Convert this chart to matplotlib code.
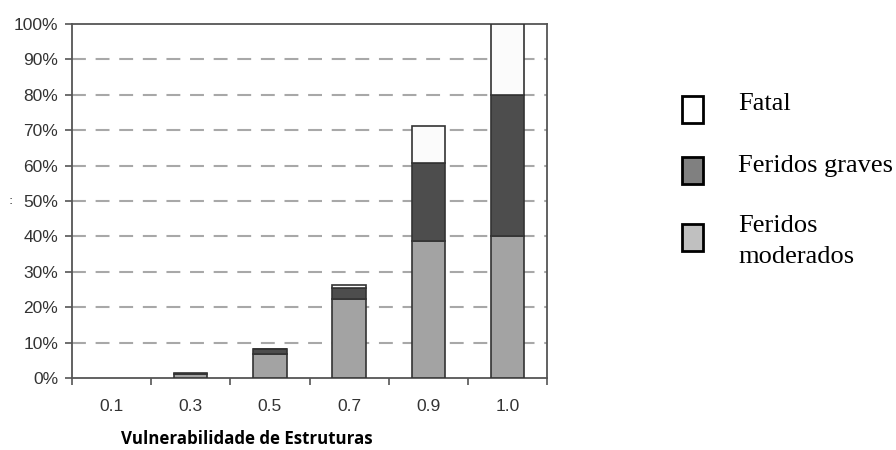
import matplotlib
matplotlib.use('Agg')
from matplotlib import pyplot as plt
from matplotlib.patches import Rectangle
import numpy as np

# dados (%)
categorias = ['0.1', '0.3', '0.5', '0.7', '0.9', '1.0']
feridos_moderados = [0.0, 1.0, 6.8, 22.2, 38.8, 40.0]
feridos_graves = [0.0, 0.5, 1.3, 3.3, 21.8, 40.0]
fatal = [0.0, 0.0, 0.1, 0.8, 10.6, 20.0]

series = ['Fatal', 'Feridos graves', 'Feridos\nmoderados']
cores_legenda = ['white', '#808080', '#c0c0c0']

plt.rcParams['lines.scale_dashes'] = False

W, H = 896, 450
fig = plt.figure(figsize=(W / 100, H / 100), dpi=100)
ax = fig.add_axes([72 / W, 72 / H, 475 / W, 354 / H])

x = np.arange(len(categorias))
width = 0.42
edge = '#333333'
mod = np.array(feridos_moderados)
grav = np.array(feridos_graves)
fat = np.array(fatal)


def lw(h):
    # sem contorno onde o segmento é nulo
    return np.where(h > 0, 1.2, 0.0)


ax.bar(x, mod, width, color='#a3a3a3', edgecolor=edge, linewidth=lw(mod), zorder=3)
ax.bar(x, grav, width, bottom=mod, color='#4d4d4d', edgecolor=edge, linewidth=lw(grav), zorder=3)
ax.bar(x, fat, width, bottom=mod + grav, color='#fbfbfb', edgecolor=edge, linewidth=lw(fat), zorder=3)

ax.set_xlim(-0.5, len(categorias) - 0.5)
ax.set_ylim(0, 100)

# grelha tracejada
for v in range(10, 100, 10):
    ax.axhline(v, color='#a8a8a8', linewidth=1.5, linestyle=(0, (10, 7)), zorder=1)

ax.set_yticks(np.arange(0, 101, 10))
ax.set_yticklabels([f'{v}%' for v in range(0, 101, 10)],
                   fontfamily='Liberation Sans', fontsize=12.5, color='#333333')
ax.tick_params(axis='y', length=5, width=1.2, color='#555555', pad=5)

ax.set_xticks(np.arange(-0.5, len(categorias), 1.0))
ax.set_xticklabels([])
ax.tick_params(axis='x', which='major', length=5, width=1.2, color='#555555')
ax.set_xticks(x, minor=True)
ax.set_xticklabels(categorias, minor=True, fontfamily='Liberation Sans',
                   fontsize=12.5, color='#333333')
ax.tick_params(axis='x', which='minor', length=0, pad=15)

for s in ax.spines.values():
    s.set_color('#555555')
    s.set_linewidth(1.3)

fig.text(247 / W, 1 - 439 / H, 'Vulnerabilidade de Estruturas',
         fontfamily='Open Sans', fontweight='bold', fontsize=12.2,
         ha='center', va='center', color='black')

# resto do rótulo do eixo y, cortado
fig.text(11 / W, 1 - 200 / H, ':', fontsize=9, color='#333333',
         ha='center', va='center')

# legenda (desenhada à mão, como na figura original)
swatch_top = [96, 157, 224]
baselines = [110, 172, 232]
line_gap = 31
for top, base, cor, nome in zip(swatch_top, baselines, cores_legenda, series):
    fig.add_artist(Rectangle((682 / W, 1 - (top + 27) / H), 21 / W, 27 / H,
                             transform=fig.transFigure, facecolor=cor,
                             edgecolor='black', linewidth=2))
    for k, linha in enumerate(nome.split('\n')):
        fig.text(738 / W, 1 - (base + k * line_gap) / H, linha,
                 fontfamily='Liberation Serif', fontsize=19,
                 ha='left', va='baseline', color='black')

fig.savefig('out.png', dpi=100, facecolor='white')
